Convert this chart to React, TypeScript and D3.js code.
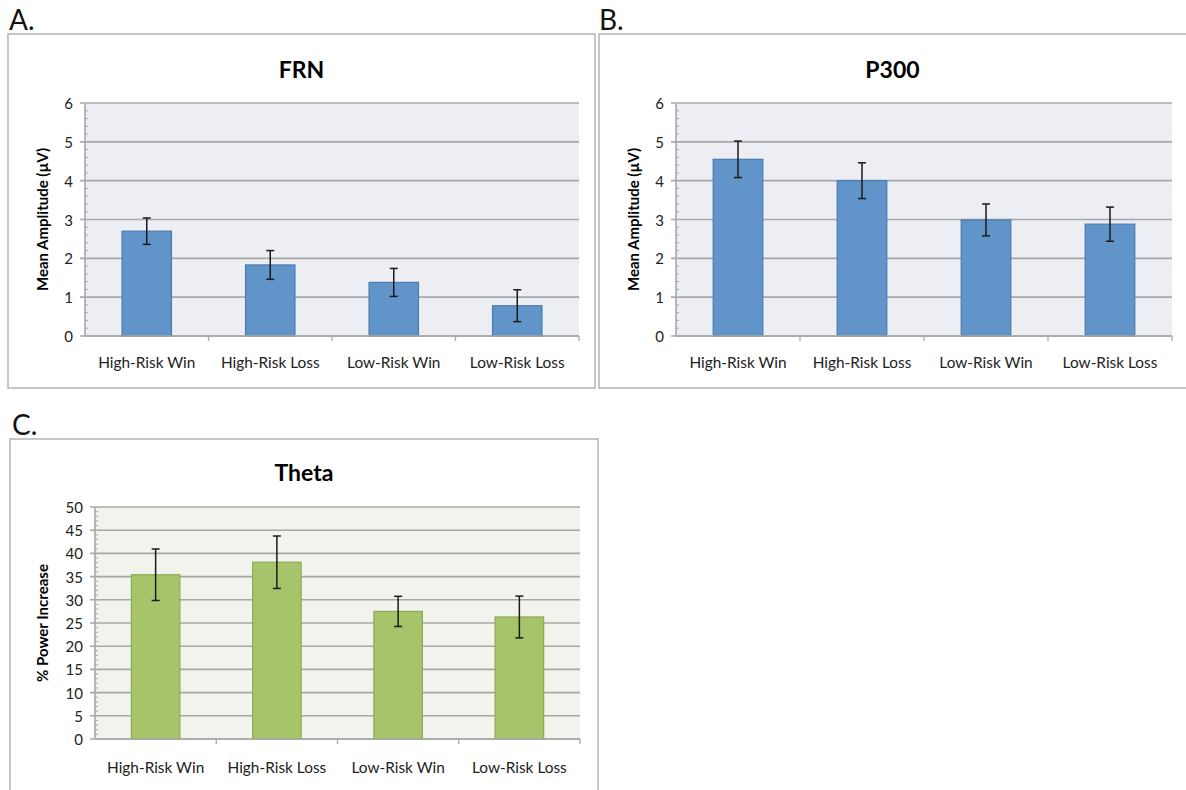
import React from "react";
import * as d3 from "d3";

const categories = ["High-Risk Win", "High-Risk Loss", "Low-Risk Win", "Low-Risk Loss"];
const frnMeans = [2.7, 1.83, 1.38, 0.78];
const frnErrors = [0.34, 0.37, 0.36, 0.41];
const p300Means = [4.55, 4.0, 2.99, 2.88];
const p300Errors = [0.47, 0.46, 0.41, 0.44];
const thetaMeans = [35.4, 38.1, 27.5, 26.3];
const thetaErrors = [5.55, 5.65, 3.25, 4.5];
const ampTicks = [0, 1, 2, 3, 4, 5, 6];
const pctTicks = [0, 5, 10, 15, 20, 25, 30, 35, 40, 45, 50];

const FONT = "Lato, 'Open Sans', sans-serif";

type PanelProps = {
  letter: string;
  letterX: number;
  letterY: number;
  box: [number, number, number, number];
  plot: [number, number, number, number];
  title: string;
  titleY: number;
  yLabel: string;
  yLabelX: number;
  means: number[];
  errors: number[];
  ticks: number[];
  minorStep: number;
  fill: string;
  stroke: string;
  bg: string;
  catY: number;
};

function Panel(p: PanelProps) {
  const [bx0, by0, bx1, by1] = p.box;
  const [px0, py0, px1, py1] = p.plot;
  const maxV = p.ticks[p.ticks.length - 1];
  const y = d3.scaleLinear().domain([0, maxV]).range([py1, py0]);
  const x = d3.scaleBand<string>().domain(categories).range([px0, px1]).paddingInner(0.6).paddingOuter(0.3);
  const band = d3.scaleBand<string>().domain(categories).range([px0, px1]);
  const minors = d3.range(0, maxV + 1e-9, p.minorStep).filter((v) => !p.ticks.some((t) => Math.abs(t - v) < 1e-6));
  const grid = "#A8A8A8";
  return (
    <g>
      <text x={p.letterX} y={p.letterY} fontFamily={FONT} fontSize={28} fill="#111">{p.letter}</text>
      <rect x={bx0} y={by0} width={bx1 - bx0} height={by1 - by0} fill="#fff" stroke="#B4B4B4" strokeWidth={1.5} />
      <text x={(bx0 + Math.min(bx1, 1186)) / 2} y={p.titleY} textAnchor="middle" dominantBaseline="central" fontFamily={FONT} fontWeight="bold" fontSize={23} fill="#000">{p.title}</text>
      <rect x={px0} y={py0} width={px1 - px0} height={py1 - py0} fill={p.bg} />
      {p.ticks.map((t) => (
        <g key={"g" + t}>
          <line x1={px0 - 5} x2={px1} y1={y(t)} y2={y(t)} stroke={grid} strokeWidth={1.6} />
          <text x={px0 - 12} y={y(t)} textAnchor="end" dominantBaseline="central" fontFamily={FONT} fontSize={15} fill="#222">{t}</text>
        </g>
      ))}
      {minors.map((m) => (
        <line key={"m" + m} x1={px0} x2={px0 + 3} y1={y(m)} y2={y(m)} stroke={grid} strokeWidth={1} />
      ))}
      <line x1={px0} x2={px0} y1={py0} y2={py1} stroke={grid} strokeWidth={1.6} />
      {categories.map((c, i) => (
        <line key={"xt" + i} x1={(band(c) as number) + band.bandwidth()} x2={(band(c) as number) + band.bandwidth()} y1={py1} y2={py1 + 5} stroke={grid} strokeWidth={1.3} />
      ))}
      {categories.map((c, i) => {
        const bx = x(c) as number;
        const cx = bx + x.bandwidth() / 2;
        const v = p.means[i];
        const e = p.errors[i];
        return (
          <g key={c}>
            <rect x={bx} y={y(v)} width={x.bandwidth()} height={y(0) - y(v)} fill={p.fill} stroke={p.stroke} strokeWidth={1.2} />
            <line x1={cx} x2={cx} y1={y(v + e)} y2={y(v - e)} stroke="#1a1a1a" strokeWidth={1.5} />
            <line x1={cx - 4} x2={cx + 4} y1={y(v + e)} y2={y(v + e)} stroke="#1a1a1a" strokeWidth={1.5} />
            <line x1={cx - 4} x2={cx + 4} y1={y(v - e)} y2={y(v - e)} stroke="#1a1a1a" strokeWidth={1.5} />
            <text x={cx} y={p.catY} textAnchor="middle" dominantBaseline="central" fontFamily={FONT} fontSize={15.4} fill="#222">{c}</text>
          </g>
        );
      })}
      <line x1={px0} x2={px1} y1={py1} y2={py1} stroke={grid} strokeWidth={1.6} />
      <text transform={`translate(${p.yLabelX},${(py0 + py1) / 2}) rotate(-90)`} textAnchor="middle" dominantBaseline="central" fontFamily={FONT} fontWeight="bold" fontSize={15} fill="#000">{p.yLabel}</text>
    </g>
  );
}

export default function App() {
  return (
    <div style={{ position: "absolute", left: 0, top: 0 }}>
      <svg width={1186} height={790} style={{ display: "block", background: "#fff" }}>
        <Panel letter="A." letterX={9} letterY={30} box={[8, 34, 595, 388]} plot={[85, 103, 579, 336]} title="FRN" titleY={69}
          yLabel="Mean Amplitude (µV)" yLabelX={42} means={frnMeans} errors={frnErrors} ticks={ampTicks} minorStep={0.2}
          fill="#6194C8" stroke="#4A7BB0" bg="#ECEEF4" catY={362} />
        <Panel letter="B." letterX={599} letterY={30} box={[599, 34, 1192, 388]} plot={[676, 103, 1172, 336]} title="P300" titleY={69}
          yLabel="Mean Amplitude (µV)" yLabelX={633} means={p300Means} errors={p300Errors} ticks={ampTicks} minorStep={0.2}
          fill="#6194C8" stroke="#4A7BB0" bg="#ECEEF4" catY={362} />
        <Panel letter="C." letterX={12} letterY={435} box={[10, 439, 598, 800]} plot={[95, 507, 580, 739]} title="Theta" titleY={472}
          yLabel="% Power Increase" yLabelX={42} means={thetaMeans} errors={thetaErrors} ticks={pctTicks} minorStep={1}
          fill="#A7C46B" stroke="#8AAB52" bg="#F1F3EC" catY={767} />
      </svg>
    </div>
  );
}
